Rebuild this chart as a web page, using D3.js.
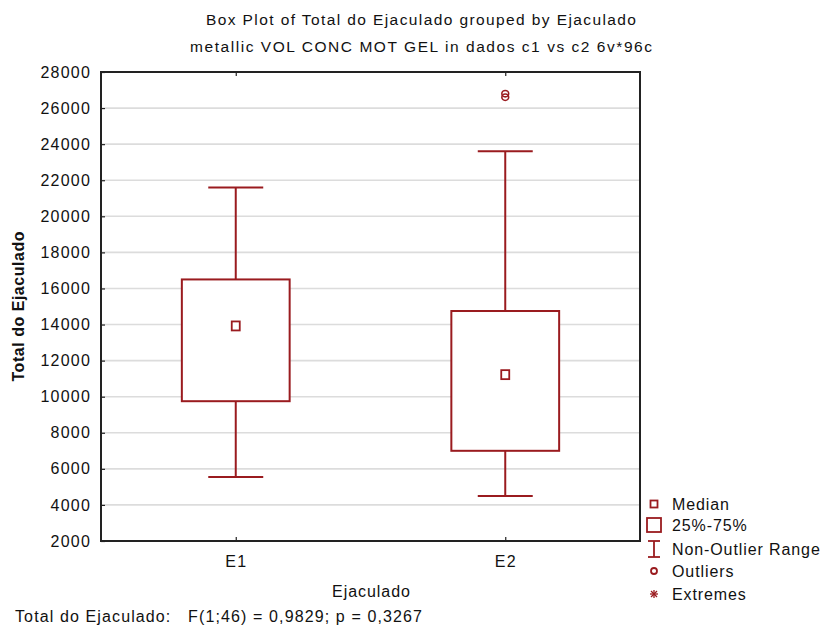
<!DOCTYPE html>
<html>
<head>
<meta charset="utf-8">
<script src="https://cdn.jsdelivr.net/npm/d3@7"></script>
<style>
  body { margin: 0; background: #fff; }
  svg { display: block; }
  text { font-family: "Liberation Sans", Arial, sans-serif; fill: #111; }
</style>
</head>
<body>
<svg id="chart" width="822" height="630"></svg>
<script>
// ---- data ----
const categories = ["E1", "E2"];
const whiskerLow = [5550, 4500];
const q1 = [9750, 7000];
const medians = [13950, 11250];
const q3 = [16500, 14750];
const whiskerHigh = [21600, 23600];
const outliers = [[], [26800, 26600]];
const yTicks = [2000, 4000, 6000, 8000, 10000, 12000, 14000, 16000, 18000, 20000, 22000, 24000, 26000, 28000];
const legendLabels = ["Median", "25%-75%", "Non-Outlier Range", "Outliers", "Extremes"];
const titleLines = ["Box Plot of Total do Ejaculado grouped by  Ejaculado",
                    "metallic VOL CONC MOT GEL in dados c1 vs c2 6v*96c"];
const footer = "Total do Ejaculado:   F(1;46) = 0,9829; p = 0,3267";

// ---- layout ----
const svg = d3.select("#chart");
const red = "#9a1b1f";
const L = 101, R = 640, T = 72, B = 541;
const y = d3.scaleLinear().domain([2000, 28000]).range([B, T]);
const x = d3.scalePoint().domain(categories).range([L, R]).padding(0.5);
const boxW = (R - L) * 0.2;
const capW = boxW * 0.51;

// gridlines
svg.append("g").selectAll("line").data(yTicks.slice(1, -1)).join("line")
  .attr("x1", L).attr("x2", R).attr("y1", d => y(d)).attr("y2", d => y(d))
  .attr("stroke", "#dcdcdc").attr("stroke-width", 1.6);

// axes
const fontSize = 16;
const yAxis = svg.append("g").attr("transform", `translate(${L},0)`)
  .call(d3.axisLeft(y).tickValues(yTicks).tickFormat(d3.format("d")).tickSizeInner(-4).tickSizeOuter(0).tickPadding(10));
const xAxis = svg.append("g").attr("transform", `translate(0,${B})`)
  .call(d3.axisBottom(x).tickSizeInner(-4).tickSizeOuter(0).tickPadding(15));
const xAxisTop = svg.append("g").attr("transform", `translate(0,${T})`)
  .call(d3.axisTop(x).tickSizeInner(-4).tickSizeOuter(0).tickFormat(""));
[yAxis, xAxis, xAxisTop].forEach(g => {
  g.select(".domain").remove();
  g.selectAll(".tick line").attr("stroke", "#222").attr("stroke-width", 1.2);
  g.selectAll("text").attr("font-size", fontSize).attr("fill", "#111")
    .attr("font-family", "'Liberation Sans', Arial, sans-serif").attr("letter-spacing", 1.2);
});

// frame
svg.append("rect").attr("x", L).attr("y", T).attr("width", R - L).attr("height", B - T)
  .attr("fill", "none").attr("stroke", "#222").attr("stroke-width", 2);

// boxes
const g = svg.append("g").attr("stroke", red).attr("fill", "none").attr("stroke-width", 2);
categories.forEach((c, i) => {
  const cx = x(c);
  g.append("line").attr("x1", cx).attr("x2", cx).attr("y1", y(q3[i])).attr("y2", y(whiskerHigh[i]));
  g.append("line").attr("x1", cx).attr("x2", cx).attr("y1", y(q1[i])).attr("y2", y(whiskerLow[i]));
  g.append("line").attr("x1", cx - capW / 2).attr("x2", cx + capW / 2).attr("y1", y(whiskerHigh[i])).attr("y2", y(whiskerHigh[i]));
  g.append("line").attr("x1", cx - capW / 2).attr("x2", cx + capW / 2).attr("y1", y(whiskerLow[i])).attr("y2", y(whiskerLow[i]));
  g.append("rect").attr("x", cx - boxW / 2).attr("width", boxW)
    .attr("y", y(q3[i])).attr("height", y(q1[i]) - y(q3[i])).attr("fill", "#fff");
  g.append("rect").attr("x", cx - 4).attr("y", y(medians[i]) - 4).attr("width", 8).attr("height", 9).attr("stroke-width", 1.8);
  outliers[i].forEach(v => {
    g.append("ellipse").attr("cx", cx).attr("cy", y(v)).attr("rx", 3.4).attr("ry", 3.2).attr("stroke-width", 1.6);
  });
});

// titles
const tg = svg.append("g").attr("text-anchor", "middle");
tg.append("text").attr("x", 421).attr("y", 25).attr("font-size", 15.5).attr("textLength", 430).attr("lengthAdjust", "spacing").text(titleLines[0]);
tg.append("text").attr("x", 421).attr("y", 52).attr("font-size", 15.5).attr("textLength", 462).attr("lengthAdjust", "spacing").text(titleLines[1]);

// axis titles
svg.append("text").attr("x", 371).attr("y", 597).attr("text-anchor", "middle")
  .attr("font-size", fontSize).attr("textLength", 78).attr("lengthAdjust", "spacing").text("Ejaculado");
svg.append("text").attr("transform", `translate(24,${(T + B) / 2}) rotate(-90)`).attr("text-anchor", "middle")
  .attr("font-size", fontSize).attr("font-weight", "bold").attr("textLength", 150).attr("lengthAdjust", "spacing").text("Total do Ejaculado");

// footer
svg.append("text").attr("x", 15).attr("y", 622).attr("font-size", fontSize)
  .attr("textLength", 407).attr("lengthAdjust", "spacing").style("white-space", "pre").text(footer);

// legend
const lx = 654, tx = 672;
const ly = [504, 525, 549, 571, 594];
const lg = svg.append("g");
lg.selectAll("text").data(legendLabels).join("text")
  .attr("x", tx).attr("y", (d, i) => ly[i]).attr("dy", "0.36em").attr("font-size", fontSize).attr("letter-spacing", 0.9).text(d => d);
const ls = lg.append("g").attr("stroke", red).attr("fill", "none").attr("stroke-width", 1.8);
ls.append("rect").attr("x", lx - 3.5).attr("y", ly[0] - 3.5).attr("width", 7).attr("height", 7);
ls.append("rect").attr("x", lx - 7).attr("y", ly[1] - 7).attr("width", 14).attr("height", 14);
ls.append("line").attr("x1", lx).attr("x2", lx).attr("y1", ly[2] - 8).attr("y2", ly[2] + 8);
ls.append("line").attr("x1", lx - 6).attr("x2", lx + 6).attr("y1", ly[2] - 8).attr("y2", ly[2] - 8);
ls.append("line").attr("x1", lx - 6).attr("x2", lx + 6).attr("y1", ly[2] + 8).attr("y2", ly[2] + 8);
ls.append("circle").attr("cx", lx).attr("cy", ly[3]).attr("r", 3);
// extremes asterisk marker
const st = ls.append("g").attr("stroke-width", 1.3);
[[-4, 0, 4, 0], [0, -4, 0, 4], [-3, -3, 3, 3], [-3, 3, 3, -3]].forEach(s =>
  st.append("line").attr("x1", lx + s[0]).attr("y1", ly[4] + s[1]).attr("x2", lx + s[2]).attr("y2", ly[4] + s[3]));
</script>
</body>
</html>
